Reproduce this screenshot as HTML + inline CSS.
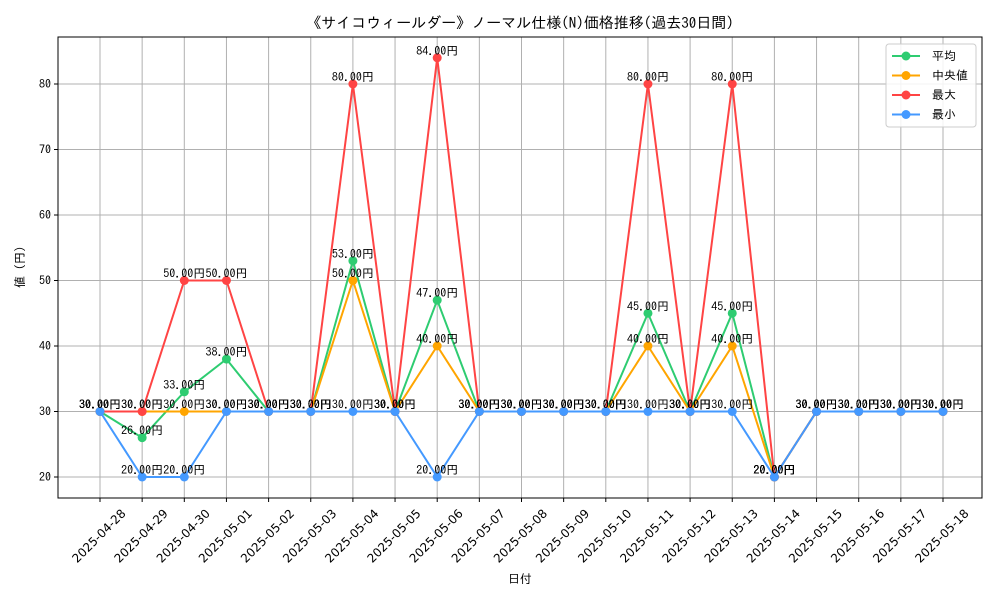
<!DOCTYPE html>
<html><head><meta charset="utf-8">
<style>
body{margin:0;background:#fff;}
svg text{font-family:"IPAGothic","Noto Sans CJK JP","Liberation Sans",sans-serif;}
svg text.xt{font-family:"DejaVu Sans","Liberation Sans",sans-serif;}
</style></head>
<body>
<svg id="c" width="1000" height="600" xmlns="http://www.w3.org/2000/svg"></svg>
<script>
const dates=["2025-04-28","2025-04-29","2025-04-30","2025-05-01","2025-05-02","2025-05-03","2025-05-04","2025-05-05","2025-05-06","2025-05-07","2025-05-08","2025-05-09","2025-05-10","2025-05-11","2025-05-12","2025-05-13","2025-05-14","2025-05-15","2025-05-16","2025-05-17","2025-05-18"];
const avgVals=[30,26,33,38,30,30,53,30,47,30,30,30,30,45,30,45,20,30,30,30,30];
const medVals=[30,30,30,30,30,30,50,30,40,30,30,30,30,40,30,40,20,30,30,30,30];
const maxVals=[30,30,50,50,30,30,80,30,84,30,30,30,30,80,30,80,20,30,30,30,30];
const minVals=[30,20,20,30,30,30,30,30,20,30,30,30,30,30,30,30,20,30,30,30,30];
const yTicks=[20,30,40,50,60,70,80];
const seriesNames=["平均","中央値","最大","最小"];

const NS="http://www.w3.org/2000/svg";
const svg=document.getElementById("c");
const L=58,R=982,T=37,B=498;
function xs(i){return 100+i*(943-100)/(dates.length-1);}
function ys(v){return 477-(v-20)*(477-84)/60;}
function mk(tag,attrs,parent){const e=document.createElementNS(NS,tag);for(const k in attrs)e.setAttribute(k,attrs[k]);(parent||svg).appendChild(e);return e;}

let t=mk("text",{x:520,y:28,"text-anchor":"middle","font-size":15,fill:"#000"});


t.textContent="《サイコウィールダー》ノーマル仕様(N)価格推移(過去30日間)";

yTicks.forEach(v=>{
 const g=mk("line",{x1:L,x2:R,y1:ys(v),y2:ys(v),stroke:"#b0b0b0","stroke-width":1});
 
 
 mk("line",{x1:L-4,x2:L,y1:ys(v),y2:ys(v),stroke:"#000"});
 const tx=mk("text",{x:L-7,y:ys(v)+4,"text-anchor":"end","font-size":12,fill:"#000"});
 
 
 tx.textContent=v;
});
dates.forEach((d,i)=>{
 const g=mk("line",{x1:xs(i),x2:xs(i),y1:T,y2:B,stroke:"#b0b0b0","stroke-width":1});
 
 
 mk("line",{x1:xs(i),x2:xs(i),y1:B,y2:B+4,stroke:"#000"});
 const cx=xs(i)-1, cy=536;
 const tx=mk("text",{class:"xt",x:cx,y:cy+4,"text-anchor":"middle","font-size":12,fill:"#000",transform:`rotate(-45 ${cx} ${cy})`});
 
 
 tx.textContent=d;
});
const frame=mk("rect",{x:L,y:T,width:R-L,height:B-T,fill:"none",stroke:"#000","stroke-width":1});



let xl=mk("text",{x:520,y:583,"text-anchor":"middle","font-size":12});


xl.textContent="日付";
let yl=mk("text",{x:24,y:267,"text-anchor":"middle","font-size":12,transform:"rotate(-90 24 267)"});


yl.textContent="値 (円)";

const series=[[avgVals,"#2ecc71","avg"],[medVals,"#ffa500","median"],[maxVals,"#ff4444","max"],[minVals,"#4499ff","min"]];
series.forEach(([vals,col,nm])=>{
 const pts=vals.map((v,i)=>xs(i)+","+ys(v)).join(" ");
 const pl=mk("polyline",{points:pts,fill:"none",stroke:col,"stroke-width":2});
 
 
 vals.forEach((v,i)=>{
  const c=mk("circle",{cx:xs(i),cy:ys(v),r:4.5,fill:col});
  
  
  const lb=mk("text",{x:xs(i),y:ys(v)-3,"text-anchor":"middle","font-size":12,fill:"#000"});
  
  
  lb.textContent=v.toFixed(2)+"円";
 });
});

const lg=mk("g",{});


mk("rect",{x:886,y:44,width:90,height:83,rx:3,fill:"#fff","fill-opacity":0.85,stroke:"#ccc"},lg);
series.forEach(([vals,col,nm],k)=>{
 const y=56+k*19.5;
 const e=mk("g",{},lg);
 
 
 mk("line",{x1:892,x2:920,y1:y,y2:y,stroke:col,"stroke-width":2},e);
 mk("circle",{cx:906,cy:y,r:4.5,fill:col},e);
 const tx=mk("text",{x:932,y:y+4,"font-size":12},e);
 tx.textContent=seriesNames[k];
});
</script>
</body></html>
